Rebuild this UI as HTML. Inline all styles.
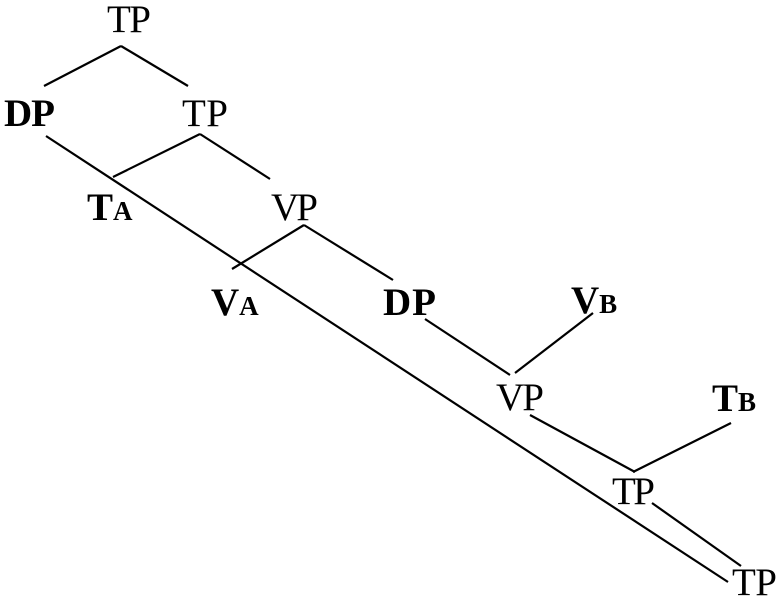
<!DOCTYPE html>
<html><head><style>
html,body{margin:0;padding:0;background:#fff;}
svg{display:block;}
text{font-family:"Liberation Serif","Times New Roman",Times,serif;font-size:39px;fill:#000;}
.b{font-weight:bold;}
.s{font-size:27px;}
</style></head><body>
<svg width="782" height="602" viewBox="0 0 782 602" xmlns="http://www.w3.org/2000/svg" font-family="Liberation Serif, Times New Roman, serif">
<g stroke="#000" stroke-width="2.2" fill="none">
<line x1="121" y1="46" x2="44" y2="86"/>
<line x1="121" y1="46" x2="188" y2="86"/>
<line x1="46" y1="136" x2="728" y2="582"/>
<line x1="200" y1="134" x2="113" y2="177"/>
<line x1="200" y1="134" x2="270" y2="179"/>
<line x1="304" y1="225" x2="232" y2="269"/>
<line x1="304" y1="225" x2="393" y2="280"/>
<line x1="425" y1="319" x2="510" y2="375"/>
<line x1="593" y1="313" x2="515" y2="373"/>
<line x1="530" y1="415" x2="635" y2="472"/>
<line x1="731" y1="423" x2="633" y2="472"/>
<line x1="652" y1="503" x2="741" y2="566"/>
</g>
<text x="107" y="32" textLength="44">TP</text>
<text x="4" y="126" class="b" textLength="51">DP</text>
<text x="182" y="126" textLength="46">TP</text>
<text x="87" y="220" class="b">T<tspan class="s">A</tspan></text>
<text x="271" y="220" textLength="47">VP</text>
<text x="211" y="315" class="b">V<tspan class="s">A</tspan></text>
<text x="383" y="315" class="b" textLength="53">DP</text>
<text x="571" y="313" class="b">V<tspan class="s">B</tspan></text>
<text x="496" y="410" textLength="48">VP</text>
<text x="712" y="411" class="b">T<tspan class="s">B</tspan></text>
<text x="612" y="504" textLength="43">TP</text>
<text x="732" y="595" textLength="45">TP</text>
</svg>
</body></html>
